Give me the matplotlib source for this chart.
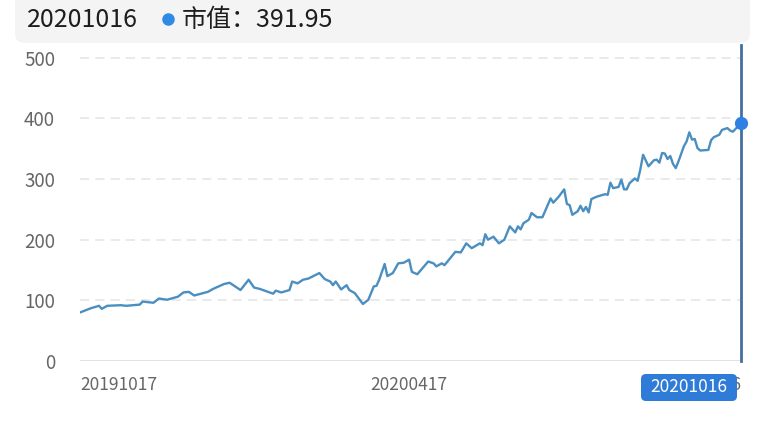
import matplotlib
matplotlib.use("Agg")
import matplotlib.pyplot as plt
from matplotlib.patches import FancyBboxPatch

plt.rcParams['font.family'] = ['Noto Sans CJK SC', 'DejaVu Sans']

# trading-day index (0 = 20191017, 243 = 20201016) and market value
days = [0, 4, 7, 8, 10, 15, 17, 22, 23, 27, 29, 32, 36, 38, 40, 42, 47, 49, 53, 55,
        59, 62, 64, 66, 71, 72, 74, 77, 78, 80, 82, 84, 88, 90, 92, 93, 94, 96, 98, 99,
        101, 102, 104, 106, 108, 109, 110, 112, 113, 115, 117, 119, 121, 122, 124, 128,
        130, 131, 133, 134, 136, 138, 140, 142, 144, 147, 148, 149, 150, 152, 154, 156,
        158, 160, 161, 162, 163, 165, 166, 168, 170, 173, 174, 176, 177, 178, 179, 180,
        181, 182, 183, 184, 185, 186, 187, 188, 190, 193, 194, 195, 196, 198, 199, 200,
        201, 202, 204, 205, 206, 207, 209, 211, 212, 213, 214, 215, 216, 217, 218, 219,
        220, 222, 223, 224, 225, 226, 227, 228, 231, 232, 233, 235, 236, 238, 239, 240, 243]
values = [80, 87, 91, 86, 91, 92, 91, 93, 98, 96, 103, 101, 106, 113, 114, 108, 114, 119, 127, 129,
          117, 134, 121, 119, 111, 116, 113, 117, 131, 128, 134, 136, 145, 135, 131, 125, 131, 118, 125, 117,
          112, 106, 94, 101, 123, 124, 134, 160, 140, 145, 161, 162, 167, 147, 143, 164,
          161, 156, 161, 158, 169, 180, 179, 194, 186, 194, 191, 209, 200, 205, 194, 200,
          222, 212, 222, 217, 227, 233, 244, 237, 237, 268, 261, 271, 277, 283, 259, 257,
          241, 244, 247, 256, 247, 254, 245, 267, 271, 275, 274, 294, 285, 287, 299, 283,
          283, 293, 301, 297, 316, 340, 321, 331, 332, 327, 343, 342, 333, 338, 325, 318,
          329, 354, 362, 377, 365, 366, 351, 347, 348, 364, 369, 373, 381, 384, 380, 378, 391.95]

tick_days = [0, 121, 243]
tick_labels = ['20191017', '20200417', '20201016']
y_ticks = [0, 100, 200, 300, 400, 500]

W, H = 767, 426
fig = plt.figure(figsize=(W / 100, H / 100), dpi=100)
fig.patch.set_facecolor('white')

ax = fig.add_axes([80 / W, 65 / H, 661 / W, 316 / H])
ax.set_xlim(0, 243)
ax.set_ylim(0, 521)
for s in ax.spines.values():
    s.set_visible(False)

for v in y_ticks[1:]:
    ax.axhline(v, color='#e4e4e4', lw=1.1, dashes=(6, 4), zorder=1)
ax.axhline(0, color='#dddddd', lw=1.2, zorder=1)

ax.plot(days, values, color='#4a8fc0', lw=1.7, zorder=3)
ax.axvline(days[-1], color='#44709c', lw=2, zorder=4, clip_on=False)
ax.plot([days[-1]], [values[-1]], 'o', color='#2f80e3', ms=8.5, zorder=5, clip_on=False)

ax.set_yticks(y_ticks)
ax.set_yticklabels([str(v) for v in y_ticks], fontsize=13.5, color='#666666')
ax.tick_params(axis='y', length=0, pad=18)
ax.set_xticks([])

# x labels
for i, (d, lab) in enumerate(zip(tick_days, tick_labels)):
    ha = 'left' if i == 0 else ('right' if i == len(tick_days) - 1 else 'center')
    ax.annotate(lab, xy=(d, 0), xycoords=('data', 'axes fraction'),
                xytext=(0, -17), textcoords='offset points', ha=ha, va='center',
                fontsize=12.5, color='#666666')

# overlay in pixel coordinates for header and badge
ov = fig.add_axes([0, 0, 1, 1], zorder=10)
ov.set_xlim(0, W)
ov.set_ylim(H, 0)
ov.axis('off')

ov.add_patch(FancyBboxPatch((15, -12), 735, 55, boxstyle='round,pad=0,rounding_size=10',
                            fc='#f4f4f5', ec='none'))
ov.text(27, 20, tick_labels[-1], fontsize=18, color='#1e1e1e', va='center', ha='left')
ov.plot([168], [19], 'o', color='#2f8ae6', ms=8)
ov.text(182, 20, '市值：%.2f' % values[-1], fontsize=18, color='#1e1e1e', va='center', ha='left')

ov.add_patch(FancyBboxPatch((641, 374), 96, 27, boxstyle='round,pad=0,rounding_size=5',
                            fc='#2f7bd8', ec='none'))
ov.text(689, 387.5, tick_labels[-1], fontsize=12.5, color='white', va='center', ha='center')

fig.savefig('out.png', dpi=100)
